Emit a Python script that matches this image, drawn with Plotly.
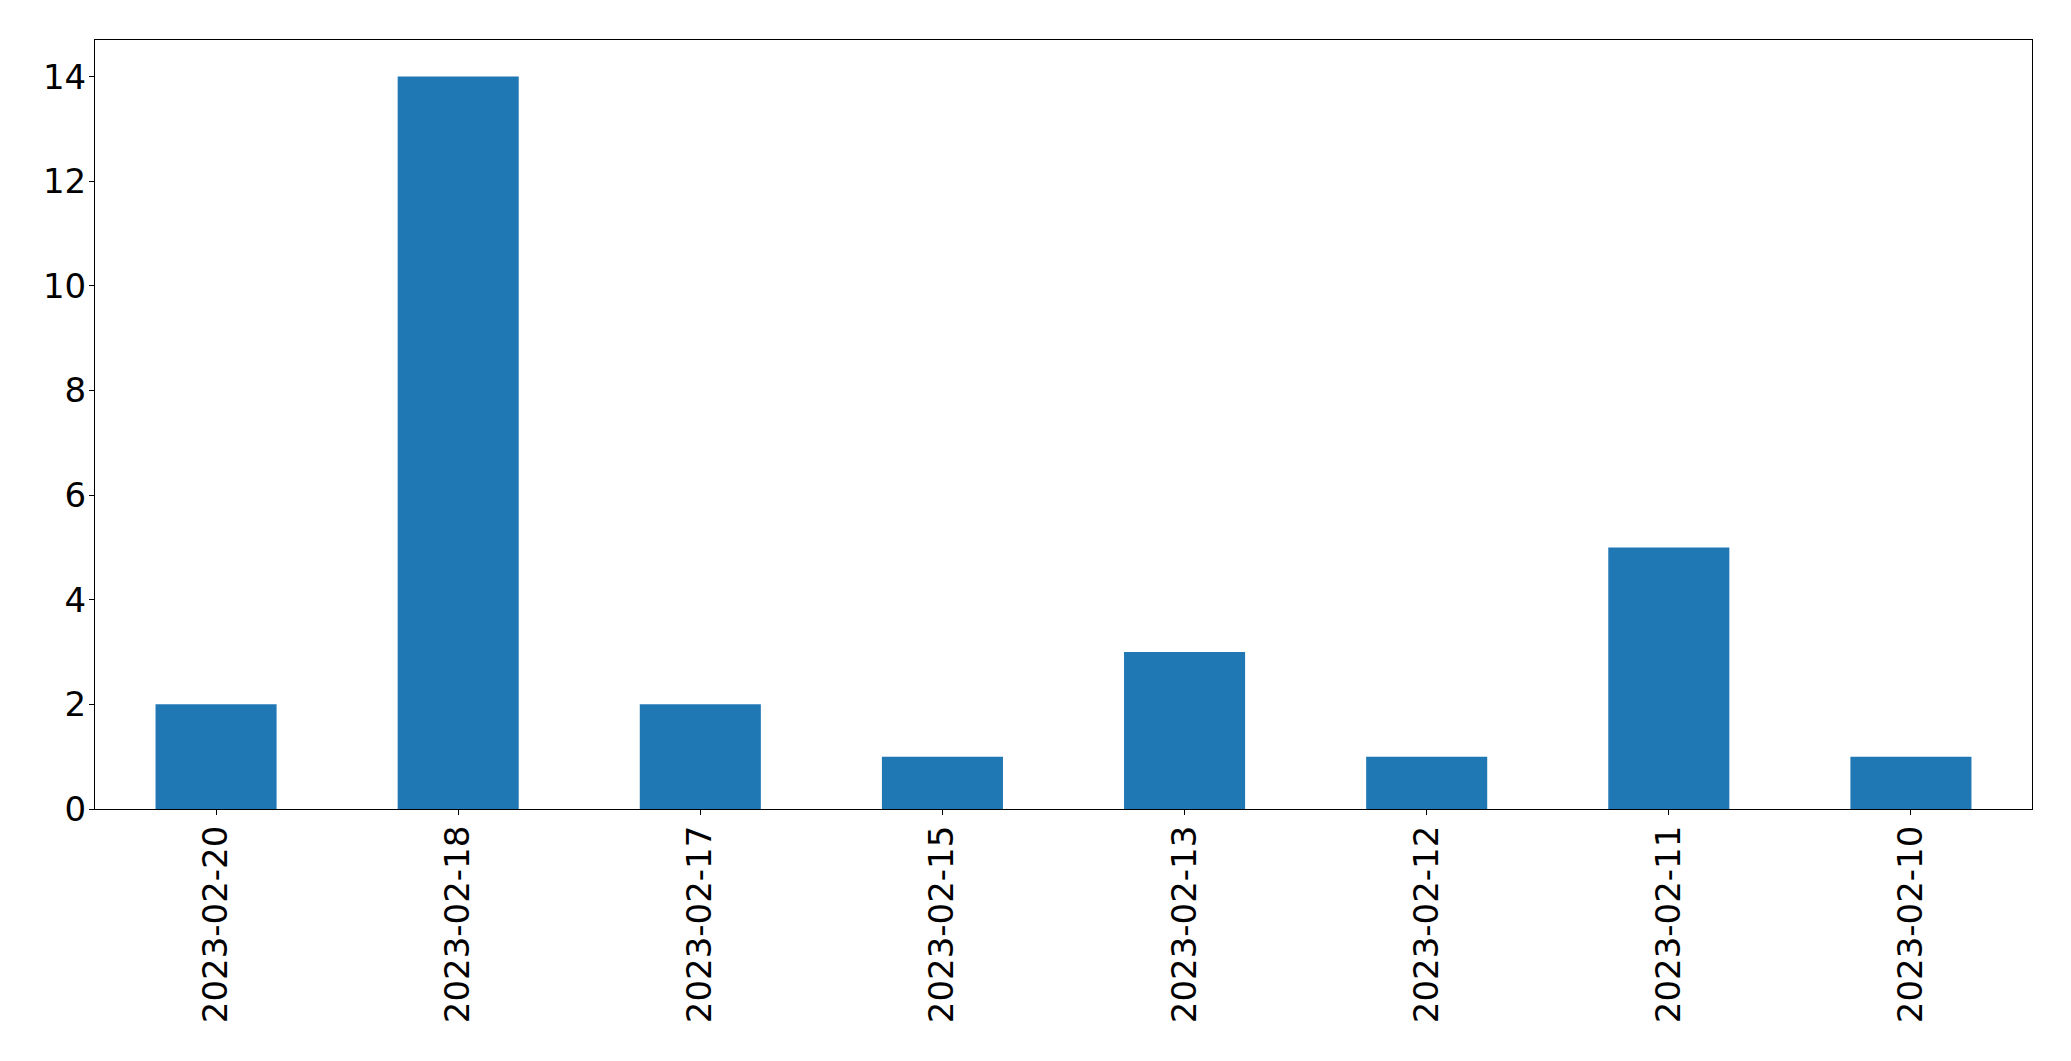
import plotly.graph_objects as go

dates = ["2023-02-20", "2023-02-18", "2023-02-17", "2023-02-15",
         "2023-02-13", "2023-02-12", "2023-02-11", "2023-02-10"]
counts = [2, 14, 2, 1, 3, 1, 5, 1]
y_ticks = [0, 2, 4, 6, 8, 10, 12, 14]

fig = go.Figure(go.Bar(x=dates, y=counts, marker=dict(color="#1f77b4", line=dict(width=0))))

fig.update_layout(
    width=2071, height=1061,
    margin=dict(l=94.5, r=38.5, t=39.5, b=252, autoexpand=False),
    paper_bgcolor="white", plot_bgcolor="white",
    bargap=0.5, showlegend=False,
    font=dict(family="DejaVu Sans", size=34, color="black"),
)
fig.update_xaxes(
    type="category", range=[-0.5, len(dates) - 0.5], tickangle=-90,
    showline=True, linecolor="black", linewidth=1.1, mirror=True,
    ticks="outside", ticklen=5, tickwidth=1.1, tickcolor="black",
    showgrid=False, zeroline=False, ticklabelstandoff=-3,
)
fig.update_yaxes(
    range=[0, 14.7], tickvals=y_ticks,
    showline=True, linecolor="black", linewidth=1.1, mirror=True,
    ticks="outside", ticklen=5, tickwidth=1.1, tickcolor="black",
    showgrid=False, zeroline=False, ticklabelstandoff=-4,
)

fig.write_html(
    "out.html",
    config={"displayModeBar": False},
    post_script="document.body.style.margin='0';document.body.style.padding='0';",
)
